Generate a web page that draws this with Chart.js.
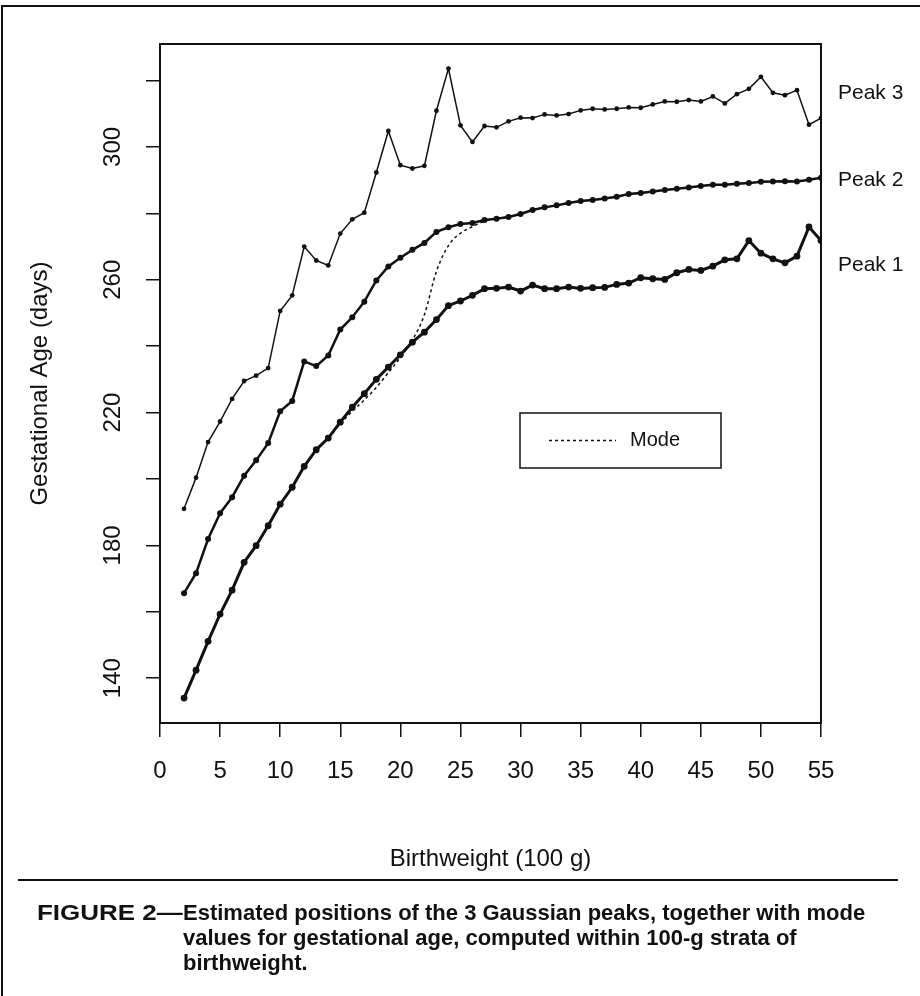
<!DOCTYPE html>
<html>
<head>
<meta charset="utf-8">
<script src="https://cdn.jsdelivr.net/npm/chart.js@4.4.1/dist/chart.umd.min.js"></script>
<style>
  html, body { margin: 0; padding: 0; background: #fff; }
  body { width: 920px; height: 996px; position: relative; overflow: hidden; font-family: "Liberation Sans", Arial, sans-serif; }
  #frame { position: absolute; left: 1px; top: 5px; width: 940px; height: 1010px; border-left: 2px solid #111; border-top: 2px solid #111; }
  #chart { position: absolute; left: 0; top: 0; }
  #rule { position: absolute; left: 18px; top: 879px; width: 880px; height: 2px; background: #111; }
  #caption { position: absolute; left: 37px; top: 900px; display: flex; font-weight: bold; font-size: 22px; line-height: 25px; color: #111; white-space: nowrap; }
  #caption .lead { display: inline-block; width: 146px; }
  #caption .lead span { display: inline-block; transform: scaleX(1.18); transform-origin: left center; }
</style>
</head>
<body>
<div id="frame"></div>
<canvas id="chart" width="920" height="996"></canvas>
<div id="rule"></div>
<div id="caption"><span class="lead"><span>FIGURE 2—</span></span><span>Estimated positions of the 3 Gaussian peaks, together with mode<br>values for gestational age, computed within 100-g strata of<br>birthweight.</span></div>
<script>
// birthweight strata (100 g)
const birthweight = [2, 3, 4, 5, 6, 7, 8, 9, 10, 11, 12, 13, 14, 15, 16, 17, 18, 19, 20, 21, 22, 23, 24, 25, 26, 27, 28,
    29, 30, 31, 32, 33, 34, 35, 36, 37, 38, 39, 40, 41, 42, 43, 44, 45, 46, 47, 48, 49, 50, 51, 52, 53, 54, 55];

// gestational age (days) of each gaussian peak
const peak1 = [134.0, 142.4, 151.1, 159.3, 166.5, 174.9, 179.9, 185.9, 192.4, 197.5, 203.8, 208.8, 212.3, 217.1,
    221.6, 225.7, 230.0, 233.7, 237.4, 241.2, 244.2, 248.0, 252.2, 253.6, 255.3, 257.3, 257.4, 257.8, 256.6, 258.4,
    257.3, 257.3, 257.8, 257.4, 257.6, 257.7, 258.6, 259.0, 260.6, 260.3, 260.1, 262.1, 263.1, 262.8, 264.1, 266.0,
    266.3, 271.8, 268.0, 266.3, 265.1, 267.1, 275.9, 271.8];
const peak2 = [165.6, 171.6, 181.9, 189.7, 194.5, 201.0, 205.6, 210.8, 220.4, 223.5, 235.4, 234.0, 237.2, 245.0,
    248.7, 253.4, 259.8, 264.0, 266.6, 269.0, 271.1, 274.4, 275.8, 276.8, 277.1, 278.0, 278.4, 278.9, 279.8, 281.0,
    281.8, 282.4, 283.1, 283.7, 284.0, 284.5, 285.0, 285.8, 286.1, 286.6, 287.0, 287.4, 287.8, 288.2, 288.6, 288.6,
    288.9, 289.1, 289.5, 289.6, 289.7, 289.6, 290.1, 290.7];
const peak3 = [191.0, 200.4, 211.1, 217.3, 224.1, 229.5, 231.1, 233.4, 250.6, 255.3, 270.0, 265.8, 264.3, 273.9,
    278.2, 280.2, 292.3, 304.8, 294.5, 293.5, 294.3, 310.9, 323.6, 306.5, 301.5, 306.3, 305.9, 307.7, 308.8, 308.7,
    309.8, 309.5, 309.9, 311.0, 311.5, 311.3, 311.5, 311.9, 311.8, 312.8, 313.7, 313.6, 314.1, 313.7, 315.2, 313.1,
    315.9, 317.5, 321.1, 316.3, 315.6, 317.1, 306.7, 308.7];
const mode = [134.0, 142.4, 151.1, 159.3, 166.5, 174.9, 179.9, 185.9, 192.4, 197.5, 203.8, 208.8, 212.3, 216.6,
    220.4, 223.8, 227.6, 232.0, 236.6, 241.8, 249.5, 262.5, 270.3, 274.0, 276.0, 277.6, 278.4, 278.9, 279.8, 281.0,
    281.8, 282.4, 283.1, 283.7, 284.0, 284.5, 285.0, 285.8, 286.1, 286.6, 287.0, 287.4, 287.8, 288.2, 288.6, 288.6,
    288.9, 289.1, 289.5, 289.6, 289.7, 289.6, 290.1, 290.7];

const yTicks = [140, 160, 180, 200, 220, 240, 260, 280, 300, 320];
const yTickLabels = [140, 180, 220, 260, 300];
const peakNames = ['Peak 1', 'Peak 2', 'Peak 3'];
const peakNameAt = [264.3, 289.9, 316.1];

const ink = '#111';
const font = '"Liberation Sans", Arial, sans-serif';

function points(ys) {
    return birthweight.map((x, i) => ({ x: x, y: ys[i] }));
}

const decorations = {
    id: 'decorations',
    afterDatasetsDraw(chart) {
        const { ctx, chartArea: a, scales: { y } } = chart;
        ctx.save();
        ctx.strokeStyle = ink;
        ctx.lineWidth = 2;
        ctx.strokeRect(a.left, a.top, a.right - a.left, a.bottom - a.top);

        ctx.fillStyle = ink;
        ctx.textAlign = 'center';
        ctx.textBaseline = 'middle';
        ctx.font = '24px ' + font;
        yTickLabels.forEach(v => {
            ctx.save();
            ctx.translate(a.left - 47, y.getPixelForValue(v));
            ctx.rotate(-Math.PI / 2);
            ctx.fillText(String(v), 0, 0);
            ctx.restore();
        });

        // names of the peaks, right of the box
        ctx.textAlign = 'left';
        ctx.font = '21px ' + font;
        peakNames.forEach((name, i) => {
            ctx.fillText(name, a.right + 17, y.getPixelForValue(peakNameAt[i]));
        });

        // legend box for the mode
        const lx = a.left + 360, ly = a.top + 369, lw = 201, lh = 55;
        ctx.lineWidth = 1.5;
        ctx.strokeRect(lx, ly, lw, lh);
        ctx.setLineDash([3, 3]);
        ctx.beginPath();
        ctx.moveTo(lx + 29, ly + lh / 2);
        ctx.lineTo(lx + 96, ly + lh / 2);
        ctx.stroke();
        ctx.setLineDash([]);
        ctx.font = '20px ' + font;
        ctx.fillText('Mode', lx + 110, ly + lh / 2);
        ctx.restore();
    }
};

new Chart(document.getElementById('chart'), {
    type: 'line',
    data: {
        datasets: [
            { label: 'Peak 1', data: points(peak1), borderColor: ink, backgroundColor: ink, borderWidth: 3, pointRadius: 3.4, pointBorderWidth: 0 },
            { label: 'Peak 2', data: points(peak2), borderColor: ink, backgroundColor: ink, borderWidth: 2.5, pointRadius: 3, pointBorderWidth: 0 },
            { label: 'Peak 3', data: points(peak3), borderColor: ink, backgroundColor: ink, borderWidth: 1.5, pointRadius: 2.4, pointBorderWidth: 0 },
            { label: 'Mode', data: points(mode), borderColor: ink, borderWidth: 1.5, borderDash: [3, 3], pointRadius: 0, cubicInterpolationMode: 'monotone' }
        ]
    },
    options: {
        responsive: false,
        animation: false,
        layout: { padding: { left: 0, top: 44, right: 99, bottom: 113 } },
        plugins: { legend: { display: false }, tooltip: { enabled: false } },
        scales: {
            x: {
                type: 'linear',
                min: 0,
                max: 55,
                afterFit: s => { s.height = 160; },
                border: { display: true, color: ink, width: 2 },
                grid: { drawOnChartArea: false, drawTicks: true, tickLength: 14, color: ink, lineWidth: 1.5 },
                ticks: { stepSize: 5, color: ink, padding: 20, font: { family: font, size: 24 } },
                title: { display: true, text: 'Birthweight (100 g)', color: ink, padding: { top: 0, bottom: 9 }, font: { family: font, size: 24 } }
            },
            y: {
                type: 'linear',
                min: 126.5,
                max: 331,
                afterFit: s => { s.width = 160; },
                afterBuildTicks: s => { s.ticks = yTicks.map(v => ({ value: v })); },
                border: { display: true, color: ink, width: 2 },
                grid: { drawOnChartArea: false, drawTicks: true, tickLength: 14, color: ink, lineWidth: 1.5 },
                ticks: { display: false },
                title: { display: true, text: 'Gestational Age (days)', color: ink, padding: { top: 26, bottom: 0 }, font: { family: font, size: 24 } }
            }
        }
    },
    plugins: [decorations]
});
</script>
</body>
</html>
